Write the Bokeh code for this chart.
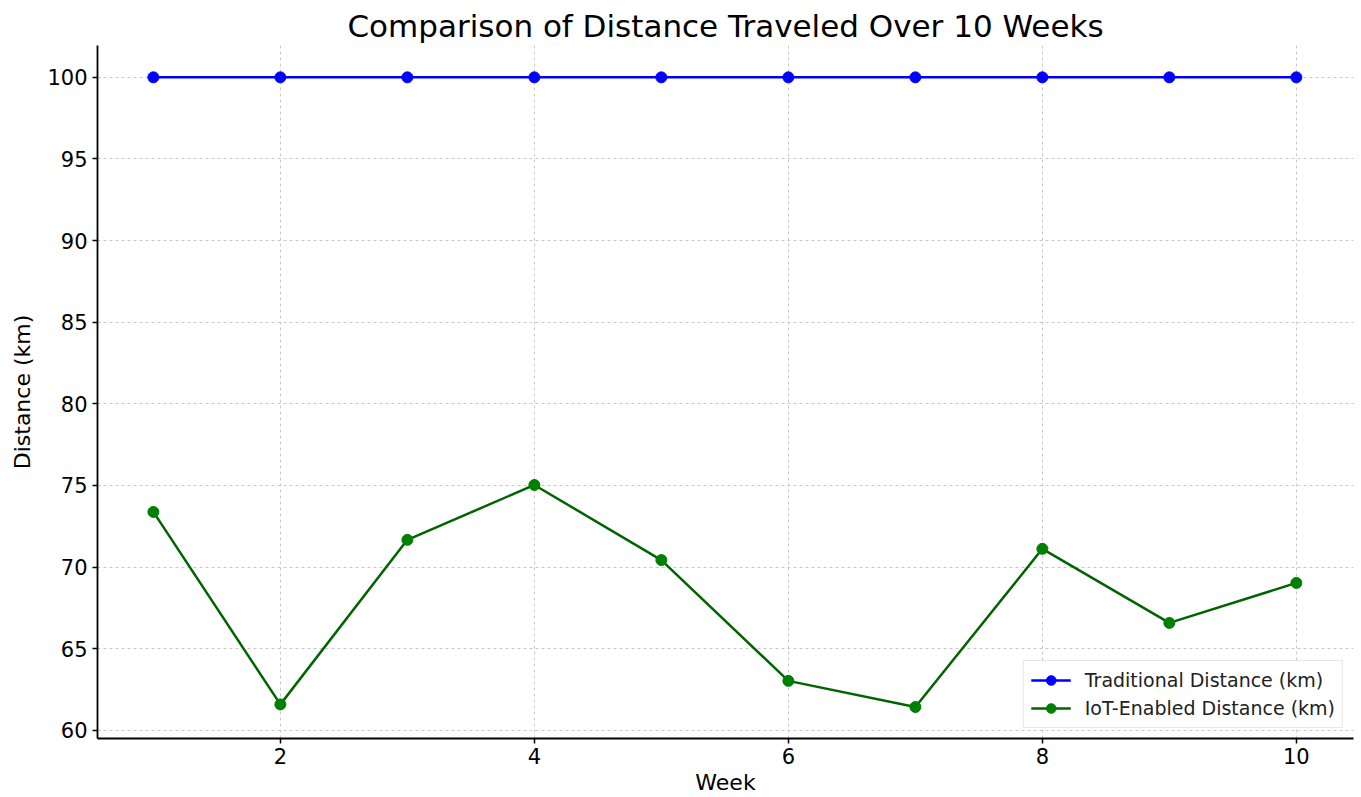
from bokeh.plotting import figure
from bokeh.models import Range1d, FixedTicker, Legend, LegendItem
from bokeh.embed import file_html
from bokeh.resources import INLINE

weeks = [1, 2, 3, 4, 5, 6, 7, 8, 9, 10]
traditional = [100, 100, 100, 100, 100, 100, 100, 100, 100, 100]
iot_enabled = [73.38, 61.59, 71.67, 75.03, 70.43, 63.03, 61.43, 71.12, 66.58, 69.03]
x_ticks = [2, 4, 6, 8, 10]
y_ticks = [60, 65, 70, 75, 80, 85, 90, 95, 100]

FONT = "DejaVu Sans"

p = figure(width=1361, height=797, output_backend="svg", toolbar_location=None,
           x_range=Range1d(0.56, 10.45), y_range=Range1d(59.5, 101.95),
           min_border_left=97, min_border_right=8, min_border_top=45, min_border_bottom=59)

p.title.text = "Comparison of Distance Traveled Over 10 Weeks"
p.title.align = "center"
p.title.text_font = FONT
p.title.text_font_size = "31px"
p.title.text_font_style = "normal"
p.title.text_color = "black"
p.title.standoff = 3

p.outline_line_color = None
p.background_fill_color = "white"
p.border_fill_color = "white"

for ax in (p.xaxis[0], p.yaxis[0]):
    ax.axis_line_color = "black"
    ax.axis_line_width = 1.8
    ax.major_tick_line_color = "black"
    ax.major_tick_line_width = 1.5
    ax.major_tick_out = 5
    ax.major_tick_in = 0
    ax.minor_tick_line_color = None
    ax.major_label_text_font = FONT
    ax.major_label_text_font_size = "21px"
    ax.major_label_text_color = "black"
    ax.axis_label_text_font = FONT
    ax.axis_label_text_font_size = "22px"
    ax.axis_label_text_font_style = "normal"
    ax.axis_label_text_color = "black"

p.xaxis[0].ticker = FixedTicker(ticks=x_ticks)
p.yaxis[0].ticker = FixedTicker(ticks=y_ticks)
p.xaxis[0].axis_label = "Week"
p.yaxis[0].axis_label = "Distance (km)"
p.xaxis[0].major_label_standoff = 4
p.yaxis[0].major_label_standoff = 5
p.xaxis[0].axis_label_standoff = 3
p.yaxis[0].axis_label_standoff = 9

p.grid.grid_line_color = "#c8c8c8"
p.grid.grid_line_dash = "3 3"
p.grid.grid_line_width = 1

l1 = p.line(weeks, traditional, line_color="blue", line_width=2.5)
m1 = p.scatter(weeks, traditional, size=11, fill_color="blue", line_color="blue")
l2 = p.line(weeks, iot_enabled, line_color="#006400", line_width=2.5)
m2 = p.scatter(weeks, iot_enabled, size=11, fill_color="green", line_color="green")

legend = Legend(items=[
    LegendItem(label="Traditional Distance (km)", renderers=[l1, m1]),
    LegendItem(label="IoT-Enabled Distance (km)", renderers=[l2, m2]),
], location="bottom_right")
legend.label_text_font = FONT
legend.label_text_font_size = "19px"
legend.label_text_color = "#222222"
legend.border_line_color = "#d0d0d0"
legend.border_line_width = 1
legend.background_fill_alpha = 0.9
legend.glyph_width = 40
legend.glyph_height = 24
legend.label_height = 24
legend.spacing = 4
legend.padding = 7
legend.margin = 10
legend.label_standoff = 14
p.add_layout(legend, "center")

open("out.html", "w").write(file_html(p, INLINE))
